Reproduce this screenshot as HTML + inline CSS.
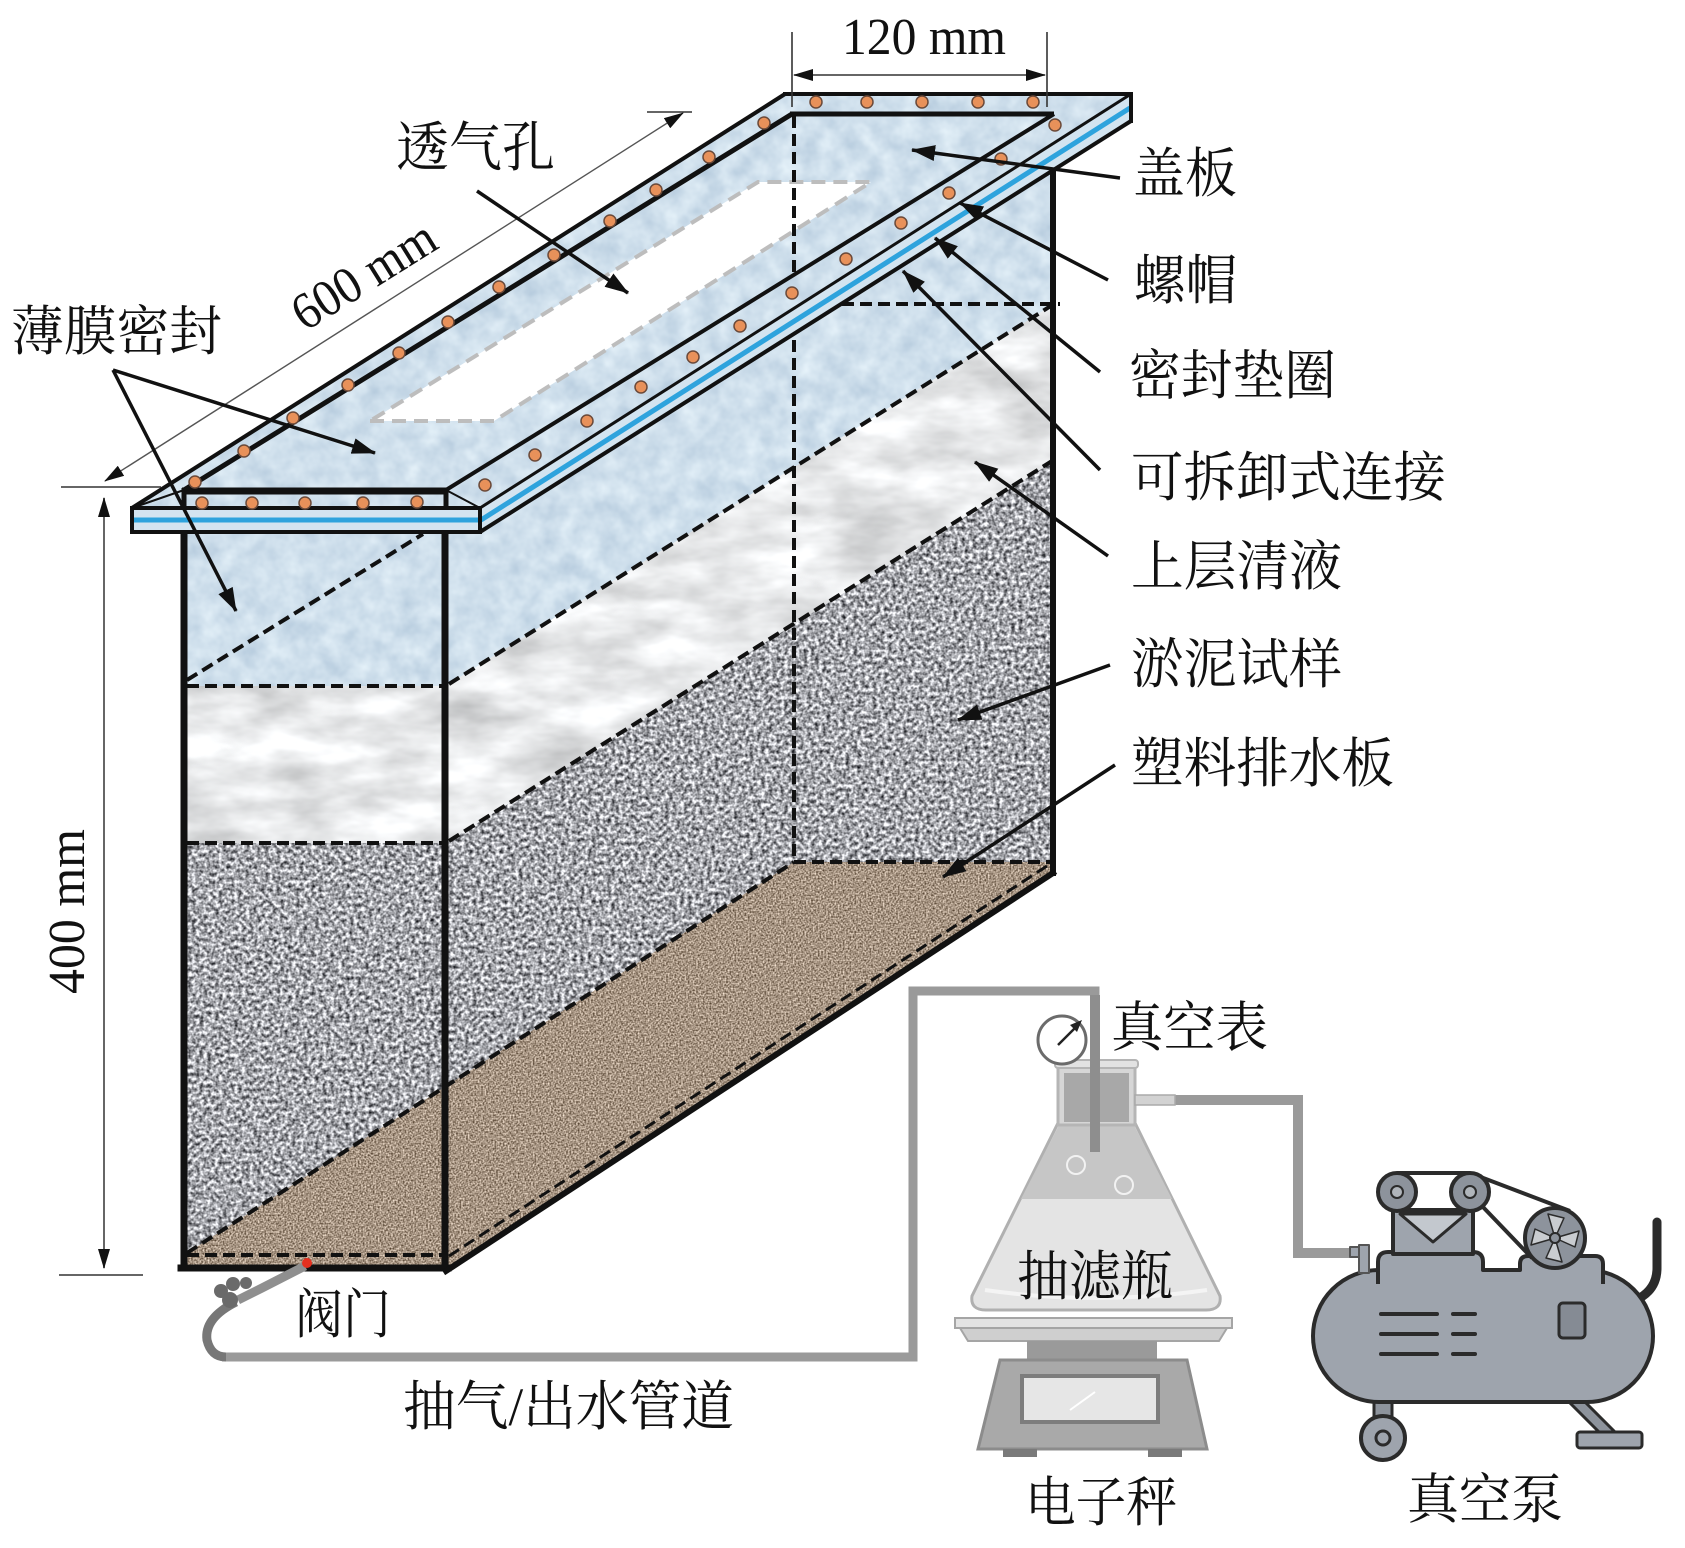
<!DOCTYPE html>
<html>
<head>
<meta charset="utf-8">
<style>
html,body{margin:0;padding:0;background:#fff;}
svg{display:block;}
.cjk{font-family:"Liberation Serif","Noto Serif CJK SC","Noto Sans CJK SC",serif;font-size:54px;fill:#111;}
.lat{font-family:"Liberation Serif",serif;font-size:52px;fill:#111;}
</style>
</head>
<body>
<svg width="1685" height="1548" viewBox="0 0 1685 1548" xmlns="http://www.w3.org/2000/svg">
<defs>
  <filter id="fGranite" filterUnits="userSpaceOnUse" x="0" y="0" width="1685" height="1548" color-interpolation-filters="sRGB">
    <feTurbulence type="fractalNoise" baseFrequency="0.26" numOctaves="2" seed="5"/>
    <feColorMatrix type="matrix" values="1.5 0 0 0 -0.1  1.5 0 0 0 -0.095  1.5 0 0 0 -0.075  0 0 0 0 1"/>
  </filter>
  <filter id="fMarble" filterUnits="userSpaceOnUse" x="0" y="0" width="1685" height="1548" color-interpolation-filters="sRGB">
    <feTurbulence type="fractalNoise" baseFrequency="0.012 0.03" numOctaves="4" seed="2"/>
    <feColorMatrix type="matrix" values="0.42 0 0 0 0.7  0.42 0 0 0 0.705  0.42 0 0 0 0.71  0 0 0 0 1"/>
  </filter>
  <filter id="fBrown" filterUnits="userSpaceOnUse" x="0" y="0" width="1685" height="1548" color-interpolation-filters="sRGB">
    <feTurbulence type="fractalNoise" baseFrequency="0.6" numOctaves="1" seed="9"/>
    <feColorMatrix type="matrix" values="1.1 0 0 0 0.1  1.1 0 0 0 0.03  1.1 0 0 0 -0.04  0 0 0 0 1"/>
  </filter>
  <filter id="fBlue" filterUnits="userSpaceOnUse" x="0" y="0" width="1685" height="1548" color-interpolation-filters="sRGB">
    <feTurbulence type="fractalNoise" baseFrequency="0.05" numOctaves="3" seed="7"/>
    <feColorMatrix type="matrix" values="0.22 0 0 0 0.7  0.18 0 0 0 0.785  0.13 0 0 0 0.86  0 0 0 0 1"/>
  </filter>
  <clipPath id="cBlue"><polygon points="184,490 446,490 1054,114 1054,304 446,686 184,686"/></clipPath>
  <clipPath id="cMarble"><polygon points="184,686 446,686 1054,304 1054,461 446,843 184,843"/></clipPath>
  <clipPath id="cGrey"><polygon points="184,843 446,843 1054,461 1054,862 794,862 184,1255"/></clipPath>
  <clipPath id="cBrown"><polygon points="184,1255 794,862 1054,862 1054,873 446,1270 184,1270"/></clipPath>
  <clipPath id="cLid"><polygon points="132,508 480,508 1131,94 785,94"/></clipPath>
  <marker id="ah" markerUnits="userSpaceOnUse" markerWidth="24" markerHeight="16" refX="23" refY="8" orient="auto">
    <path d="M0,0 L24,8 L0,16 Z" fill="#111"/>
  </marker>
  <marker id="dh" markerUnits="userSpaceOnUse" markerWidth="20" markerHeight="12" refX="19" refY="6" orient="auto-start-reverse">
    <path d="M0,0 L20,6 L0,12 Z" fill="#111"/>
  </marker>
</defs>

<rect width="1685" height="1548" fill="#fff"/>

<!-- Box layers -->
<g clip-path="url(#cBlue)"><rect x="0" y="0" width="1685" height="1548" filter="url(#fBlue)"/></g>
<g clip-path="url(#cMarble)"><rect x="0" y="0" width="1685" height="1548" filter="url(#fMarble)"/></g>
<g clip-path="url(#cGrey)"><rect x="0" y="0" width="1685" height="1548" filter="url(#fGranite)"/></g>
<g clip-path="url(#cBrown)"><rect x="0" y="0" width="1685" height="1548" filter="url(#fBrown)"/></g>

<!-- dashed layer lines -->
<g stroke="#111" stroke-width="4" stroke-dasharray="12 6" fill="none">
  <line x1="187" y1="686" x2="444" y2="686"/>
  <line x1="187" y1="843" x2="444" y2="843"/>
  <line x1="187" y1="1255" x2="444" y2="1255"/>
  <line x1="187" y1="680" x2="423" y2="534"/>
  <line x1="449" y1="684" x2="1054" y2="304"/>
  <line x1="842" y1="304" x2="1060" y2="304"/>
  <line x1="449" y1="841" x2="1052" y2="461"/>
  <line x1="187" y1="1253" x2="794" y2="862"/>
  <line x1="794" y1="862" x2="1053" y2="862"/>
  <line x1="449" y1="1256" x2="1047" y2="866" stroke-width="3"/>
  <line x1="794" y1="340" x2="794" y2="862"/>
</g>

<!-- box solid edges -->
<g stroke="#111" fill="none" stroke-linecap="square">
  <line x1="184" y1="530" x2="184" y2="1268" stroke-width="7"/>
  <line x1="445" y1="530" x2="445" y2="1268" stroke-width="7"/>
  <line x1="181" y1="1268" x2="448" y2="1268" stroke-width="7"/>
  <line x1="1053" y1="160" x2="1053" y2="873" stroke-width="6"/>
  <line x1="446" y1="1271" x2="1053" y2="873" stroke-width="6"/>
</g>

<!-- Lid top -->
<g clip-path="url(#cLid)"><rect x="0" y="0" width="1685" height="1548" filter="url(#fBlue)"/></g>
<polygon points="370,421 494,421 871,182 758,182" fill="#fff" stroke="#bdbdbd" stroke-width="4" stroke-dasharray="14 8"/>
<polygon points="132,508 480,508 480,532 132,532" fill="#d3e4f0"/>
<polygon points="480,508 1131,94 1131,121 480,532" fill="#d3e4f0"/>
<line x1="134" y1="520" x2="478" y2="520" stroke="#2ea3dd" stroke-width="5"/>
<line x1="481" y1="520" x2="1130" y2="108" stroke="#2ea3dd" stroke-width="5"/>
<g stroke="#111" fill="none" stroke-linejoin="miter">
  <rect x="132" y="508" width="348" height="24" stroke-width="4"/>
  <line x1="480" y1="532" x2="1131" y2="121" stroke-width="4"/>
  <line x1="480" y1="508" x2="1131" y2="94" stroke-width="3"/>
  <line x1="1131" y1="92" x2="1131" y2="123" stroke-width="4"/>
  <line x1="132" y1="508" x2="785" y2="94" stroke-width="4"/>
  <line x1="783" y1="94" x2="1133" y2="94" stroke-width="4"/>
  <line x1="132" y1="508" x2="184" y2="490" stroke-width="2"/>
  <line x1="480" y1="508" x2="446" y2="490" stroke-width="2"/>
  <line x1="182" y1="491" x2="448" y2="491" stroke-width="7"/>
  <line x1="184" y1="488" x2="184" y2="510" stroke-width="5"/>
  <line x1="446" y1="488" x2="446" y2="510" stroke-width="5"/>
  <line x1="184" y1="490" x2="792" y2="114" stroke-width="5"/>
  <line x1="790" y1="114" x2="1054" y2="114" stroke-width="5"/>
  <line x1="446" y1="490" x2="1054" y2="114" stroke-width="4"/>
</g>
<line x1="794" y1="116" x2="794" y2="274" stroke="#111" stroke-width="4" stroke-dasharray="12 6"/>

<!-- bolts -->
<g fill="#e8915a" stroke="#6b4a3a" stroke-width="1.5">
  <circle cx="202" cy="503" r="6"/><circle cx="252" cy="503" r="6"/><circle cx="305" cy="503" r="6"/><circle cx="363" cy="503" r="6"/><circle cx="417" cy="502" r="6"/>
  <circle cx="816" cy="102" r="6"/><circle cx="867" cy="102" r="6"/><circle cx="922" cy="102" r="6"/><circle cx="978" cy="102" r="6"/><circle cx="1033" cy="102" r="6"/>
  <circle cx="195" cy="482" r="6"/><circle cx="244" cy="451" r="6"/><circle cx="293" cy="418" r="6"/><circle cx="348" cy="385" r="6"/><circle cx="399" cy="353" r="6"/><circle cx="448" cy="322" r="6"/><circle cx="499" cy="287" r="6"/><circle cx="554" cy="255" r="6"/><circle cx="610" cy="221" r="6"/><circle cx="656" cy="190" r="6"/><circle cx="709" cy="157" r="6"/><circle cx="764" cy="123" r="6"/>
  <circle cx="485" cy="485" r="6"/><circle cx="535" cy="455" r="6"/><circle cx="587" cy="421" r="6"/><circle cx="641" cy="387" r="6"/><circle cx="693" cy="357" r="6"/><circle cx="740" cy="326" r="6"/><circle cx="792" cy="293" r="6"/><circle cx="846" cy="259" r="6"/><circle cx="901" cy="223" r="6"/><circle cx="949" cy="193" r="6"/><circle cx="1001" cy="159" r="6"/><circle cx="1055" cy="125" r="6"/>
</g>

<!-- Dimension lines -->
<g stroke="#333" stroke-width="1.6" fill="none">
  <line x1="792" y1="32" x2="792" y2="107"/>
  <line x1="1047" y1="32" x2="1047" y2="107"/>
  <line x1="794" y1="75" x2="1045" y2="75" marker-start="url(#dh)" marker-end="url(#dh)"/>
  <line x1="105" y1="481" x2="683" y2="113" stroke="#555" stroke-width="1.4" marker-start="url(#dh)" marker-end="url(#dh)"/>
  <line x1="61" y1="487" x2="161" y2="487"/>
  <line x1="647" y1="112" x2="692" y2="112"/>
  <line x1="104" y1="498" x2="104" y2="1268" stroke="#666" stroke-width="2" marker-start="url(#dh)" marker-end="url(#dh)"/>
  <line x1="59" y1="1275" x2="143" y2="1275"/>
</g>

<!-- Leaders -->
<g stroke="#111" stroke-width="3.5" fill="none" marker-end="url(#ah)">
  <line x1="477" y1="191" x2="628" y2="293"/>
  <line x1="113" y1="370" x2="375" y2="453"/>
  <line x1="113" y1="370" x2="236" y2="611"/>
  <line x1="1120" y1="178" x2="912" y2="150"/>
  <line x1="1108" y1="280" x2="960" y2="203"/>
  <line x1="1100" y1="372" x2="935" y2="238"/>
  <line x1="1100" y1="470" x2="903" y2="271"/>
  <line x1="1108" y1="556" x2="975" y2="462"/>
  <line x1="1110" y1="665" x2="958" y2="720"/>
  <line x1="1115" y1="765" x2="943" y2="877"/>
</g>

<!-- Pipes -->
<g fill="none" stroke-linejoin="miter">
  <polyline points="222,1357 913,1357 913,991 1095,991 1095,1152" stroke="#9a9a9a" stroke-width="9"/>
  <path d="M305,1266 L262,1288 L238,1300" stroke="#8f8f8f" stroke-width="9"/>
  <path d="M236,1302 Q204,1318 207,1340 Q211,1357 226,1357" stroke="#777" stroke-width="9"/>
  <polyline points="1135,1100 1298,1100 1298,1253 1352,1253" stroke="#9a9a9a" stroke-width="10"/>
</g>
<g fill="#6a6a6a">
  <circle cx="221" cy="1291" r="7"/><circle cx="233" cy="1284" r="7"/><circle cx="246" cy="1283" r="6"/><circle cx="230" cy="1300" r="8"/>
</g>
<circle cx="307" cy="1263" r="5" fill="#e5301f"/>

<!-- Flask -->
<path d="M1058,1123 L972,1296 Q970,1310 986,1310 L1206,1310 Q1222,1310 1220,1296 L1135,1123 Z" fill="#e4e4e4" stroke="#b0b0b0" stroke-width="3"/>
<polygon points="1059,1125 1134,1125 1172,1199 1021,1199" fill="#c6c6c6"/>
<path d="M985,1290 Q1096,1306 1207,1290" stroke="#f4f4f4" stroke-width="4" fill="none"/>
<circle cx="1076" cy="1165" r="9" fill="none" stroke="#f2f2f2" stroke-width="2"/>
<circle cx="1124" cy="1185" r="9" fill="none" stroke="#f2f2f2" stroke-width="2"/>
<rect x="1058" y="1065" width="77" height="60" fill="#d6d6d6" stroke="#b5b5b5" stroke-width="3"/>
<rect x="1064" y="1073" width="65" height="49" fill="#a8a8a8"/>
<rect x="1055" y="1060" width="83" height="8" rx="3" fill="#e2e2e2" stroke="#b5b5b5" stroke-width="2"/>
<rect x="1135" y="1095" width="40" height="10" fill="#d2d2d2" stroke="#aaa" stroke-width="1.5"/>
<line x1="1095" y1="995" x2="1095" y2="1152" stroke="#8e8e8e" stroke-width="10"/>
<circle cx="1062" cy="1040" r="24" fill="#fff" stroke="#6b6b6b" stroke-width="3"/>
<line x1="1058" y1="1045" x2="1079" y2="1024" stroke="#222" stroke-width="2.5"/>
<path d="M1082,1020 L1070,1025 L1077,1032 Z" fill="#222"/>

<!-- Scale -->
<path d="M955,1318 L1232,1318 L1232,1328 L955,1328 Z" fill="#e3e3e3" stroke="#a5a5a5" stroke-width="2"/>
<path d="M960,1328 L1227,1328 L1219,1341 L968,1341 Z" fill="#cfcfcf" stroke="#a5a5a5" stroke-width="2"/>
<rect x="1027" y="1341" width="130" height="18" fill="#9a9a9a"/>
<path d="M1000,1360 L1187,1360 L1207,1449 L978,1449 Z" fill="#a9a9a9" stroke="#8c8c8c" stroke-width="3"/>
<rect x="1022" y="1376" width="136" height="46" fill="#e6e6e6" stroke="#7d7d7d" stroke-width="4"/>
<line x1="1070" y1="1410" x2="1095" y2="1392" stroke="#fff" stroke-width="2"/>
<rect x="1003" y="1449" width="34" height="8" fill="#7a7a7a"/>
<rect x="1148" y="1449" width="34" height="8" fill="#7a7a7a"/>

<!-- Pump -->
<g stroke="#2b2b2b" stroke-linejoin="round">
  <path d="M1657,1222 L1657,1268 Q1657,1290 1636,1300" fill="none" stroke-width="9" stroke-linecap="round"/>
  <rect x="1374" y="1398" width="18" height="22" fill="#8d939c" stroke-width="3"/>
  <polygon points="1567,1400 1581,1398 1619,1436 1605,1438" fill="#8d939c" stroke-width="3"/>
  <rect x="1577" y="1432" width="65" height="16" rx="3" fill="#9ea4ad" stroke-width="3"/>
  <circle cx="1383" cy="1438" r="22" fill="#9ea4ad" stroke-width="4"/>
  <circle cx="1383" cy="1438" r="7" fill="none" stroke-width="3"/>
  <rect x="1313" y="1270" width="340" height="132" rx="66" fill="#9ea4ad" stroke-width="4"/>
  <path d="M1378,1284 L1378,1262 Q1378,1252 1388,1252 L1473,1252 Q1483,1252 1483,1262 L1483,1270 L1520,1270 L1520,1264 Q1520,1256 1528,1256 L1595,1256 Q1603,1256 1603,1264 L1603,1284" fill="#9ea4ad" stroke-width="4"/>
  <rect x="1393" y="1210" width="80" height="44" fill="#9ea4ad" stroke-width="4"/>
  <polygon points="1400,1214 1433,1242 1466,1214" fill="#c3c8ce" stroke-width="3"/>
  <line x1="1397" y1="1173" x2="1470" y2="1173" stroke-width="4"/>
  <line x1="1397" y1="1211" x2="1470" y2="1211" stroke-width="3"/>
  <line x1="1478" y1="1176" x2="1570" y2="1211" stroke-width="4"/>
  <line x1="1482" y1="1206" x2="1532" y2="1258" stroke-width="4"/>
  <circle cx="1397" cy="1192" r="19" fill="#8d939c" stroke-width="4"/>
  <circle cx="1397" cy="1192" r="6" fill="#b0b5bb" stroke-width="2"/>
  <circle cx="1470" cy="1192" r="19" fill="#8d939c" stroke-width="4"/>
  <circle cx="1470" cy="1192" r="6" fill="#b0b5bb" stroke-width="2"/>
  <circle cx="1555" cy="1238" r="30" fill="#8d939c" stroke-width="4"/>
  <g fill="#c9ccd0" stroke-width="1.5">
    <path d="M1555,1238 L1548,1214 L1564,1218 Z"/>
    <path d="M1555,1238 L1579,1231 L1575,1247 Z"/>
    <path d="M1555,1238 L1562,1262 L1546,1258 Z"/>
    <path d="M1555,1238 L1531,1245 L1535,1229 Z"/>
  </g>
  <circle cx="1555" cy="1238" r="5" fill="#8d939c" stroke-width="2"/>
  <g stroke-width="4" stroke-linecap="round">
    <line x1="1381" y1="1314" x2="1437" y2="1314"/><line x1="1453" y1="1314" x2="1475" y2="1314"/>
    <line x1="1381" y1="1334" x2="1437" y2="1334"/><line x1="1453" y1="1334" x2="1475" y2="1334"/>
    <line x1="1381" y1="1354" x2="1437" y2="1354"/><line x1="1453" y1="1354" x2="1475" y2="1354"/>
  </g>
  <rect x="1559" y="1303" width="26" height="35" rx="4" fill="#858b94" stroke-width="3"/>
  <rect x="1350" y="1247" width="9" height="10" fill="#9ea4ad" stroke="#555" stroke-width="2"/>
  <rect x="1359" y="1245" width="10" height="28" fill="#9ea4ad" stroke="#555" stroke-width="2"/>
</g>

<!-- Text -->
<text class="lat" x="842" y="54" textLength="164" lengthAdjust="spacingAndGlyphs">120 mm</text>
<text class="lat" transform="translate(305,332) rotate(-32)" x="0" y="0" textLength="160" lengthAdjust="spacingAndGlyphs">600 mm</text>
<text class="lat" transform="translate(84,994) rotate(-90)" x="0" y="0" textLength="165" lengthAdjust="spacingAndGlyphs">400 mm</text>

<text class="cjk" x="396" y="166" textLength="159" lengthAdjust="spacingAndGlyphs">透气孔</text>
<text class="cjk" x="11" y="350" textLength="211" lengthAdjust="spacingAndGlyphs">薄膜密封</text>
<text class="cjk" x="1133" y="192" textLength="104" lengthAdjust="spacingAndGlyphs">盖板</text>
<text class="cjk" x="1134" y="299" textLength="103" lengthAdjust="spacingAndGlyphs">螺帽</text>
<text class="cjk" x="1129" y="394" textLength="207" lengthAdjust="spacingAndGlyphs">密封垫圈</text>
<text class="cjk" x="1131" y="496" textLength="315" lengthAdjust="spacingAndGlyphs">可拆卸式连接</text>
<text class="cjk" x="1131" y="585" textLength="211" lengthAdjust="spacingAndGlyphs">上层清液</text>
<text class="cjk" x="1131" y="683" textLength="211" lengthAdjust="spacingAndGlyphs">淤泥试样</text>
<text class="cjk" x="1131" y="782" textLength="263" lengthAdjust="spacingAndGlyphs">塑料排水板</text>
<text class="cjk" x="1111" y="1046" textLength="157" lengthAdjust="spacingAndGlyphs">真空表</text>
<text class="cjk" x="295" y="1333" textLength="96" lengthAdjust="spacingAndGlyphs">阀门</text>
<text class="cjk" x="403" y="1425" textLength="331" lengthAdjust="spacingAndGlyphs">抽气/出水管道</text>
<text class="cjk" x="1017" y="1295" textLength="156" lengthAdjust="spacingAndGlyphs">抽滤瓶</text>
<text class="cjk" x="1025" y="1521" textLength="152" lengthAdjust="spacingAndGlyphs">电子秤</text>
<text class="cjk" x="1407" y="1518" textLength="156" lengthAdjust="spacingAndGlyphs">真空泵</text>
</svg>
</body>
</html>
